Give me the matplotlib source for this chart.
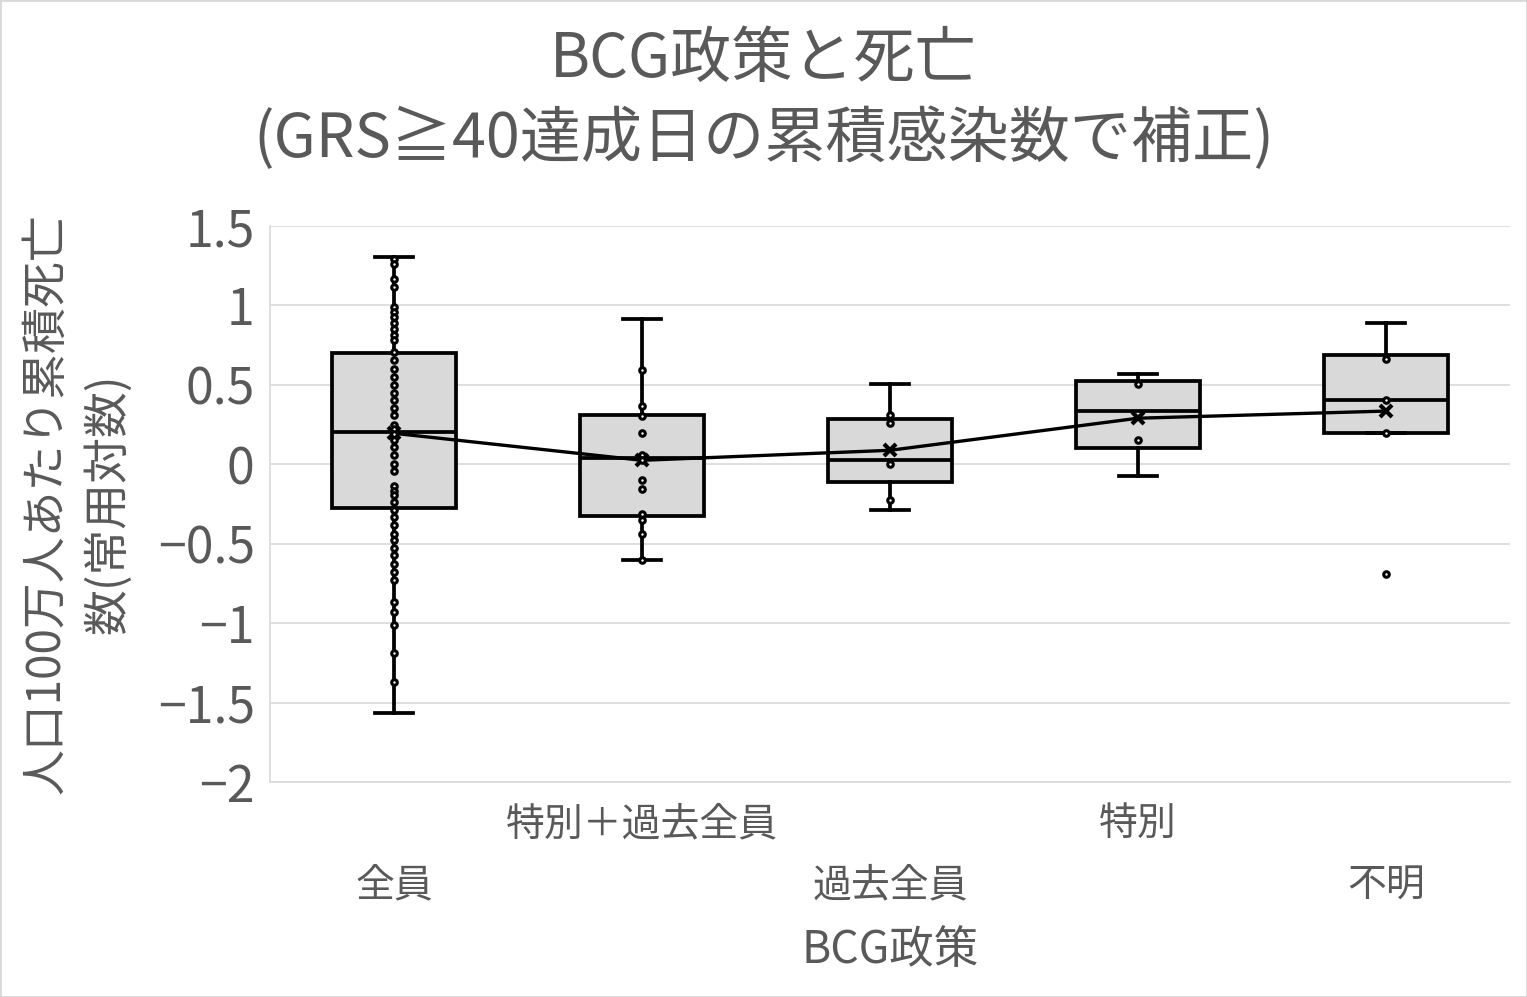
import matplotlib
matplotlib.use("Agg")
import matplotlib.pyplot as plt
from matplotlib.patches import Rectangle

plt.rcParams['font.family'] = ['Noto Sans CJK JP', 'DejaVu Sans']

TXT = "#595959"
GRID = "#d9d9d9"

categories = ["全員", "特別＋過去全員", "過去全員", "特別", "不明"]

# box statistics
q1 = [-0.277, -0.327, -0.111, 0.103, 0.197]
med = [0.205, 0.042, 0.029, 0.333, 0.403]
q3 = [0.699, 0.308, 0.283, 0.522, 0.686]
whislo = [-1.567, -0.604, -0.285, -0.076, 0.197]
whishi = [1.303, 0.917, 0.508, 0.566, 0.889]
means = [0.195, 0.025, 0.088, 0.29, 0.335]

# visible data points of each group
pts_all = [1.295, 1.263, 1.168, 1.116, 0.99, 0.958, 0.927, 0.89, 0.853, 0.816,
           0.78, 0.707, 0.654, 0.60, 0.549, 0.497, 0.451, 0.403, 0.354, 0.308,
           0.245, 0.22, 0.19, 0.151, 0.109, 0.057, 0.004, -0.043, -0.138, -0.168,
           -0.195, -0.237, -0.29, -0.33, -0.38, -0.436, -0.478, -0.527, -0.568,
           -0.625, -0.678, -0.73, -0.867, -0.93, -1.013, -1.187, -1.37]
pts_special_past = [0.596, 0.365, 0.302, 0.197, 0.057, 0.03, -0.10, -0.153,
                    -0.31, -0.35, -0.44, -0.604]
pts_past = [0.308, 0.26, 0.004, -0.227]
pts_special = [0.508, 0.155]
pts_unknown = [0.665, 0.407, 0.197, -0.688]
points = [pts_all, pts_special_past, pts_past, pts_special, pts_unknown]

yticks = [-2, -1.5, -1, -0.5, 0, 0.5, 1, 1.5]
ytick_labels = ["\u22122", "\u22121.5", "\u22121", "\u22120.5", "0", "0.5", "1", "1.5"]

fig = plt.figure(figsize=(15.27, 9.97), dpi=100)
ax = fig.add_axes([270 / 1527, 1 - 782 / 997, 1240 / 1527, 556 / 997])

stats = []
for i in range(len(categories)):
    stats.append({"q1": q1[i], "med": med[i], "q3": q3[i],
                  "whislo": whislo[i], "whishi": whishi[i],
                  "mean": means[i], "label": categories[i]})

ax.bxp(stats, positions=range(len(categories)), widths=0.5, patch_artist=True,
       showmeans=True, showfliers=False,
       boxprops=dict(facecolor="#d9d9d9", edgecolor="black", linewidth=2.7),
       medianprops=dict(color="black", linewidth=2.7),
       whiskerprops=dict(color="black", linewidth=2.7),
       capprops=dict(color="black", linewidth=2.7),
       capwidths=0.15,
       meanprops=dict(marker="x", markeredgecolor="black", markersize=9,
                      markeredgewidth=3),
       zorder=2)

ax.plot(range(len(categories)), means, color="black", linewidth=2.4, zorder=3)

for i, pts in enumerate(points):
    ax.plot([i] * len(pts), pts, "o", markersize=4, markerfacecolor="white",
            markeredgecolor="black", markeredgewidth=2.2, zorder=4)

ax.set_xlim(-0.5, 4.5)
ax.set_ylim(-2, 1.5)
ax.set_yticks(yticks)
ax.set_yticklabels(ytick_labels, fontsize=36, color=TXT)
ax.tick_params(axis="y", length=0, pad=11)
ax.grid(axis="y", color=GRID, linewidth=1.2)
ax.set_axisbelow(True)

# staggered category labels
ax.set_xticks([0, 2, 4])
ax.set_xticklabels([categories[0], categories[2], categories[4]], fontsize=28, color=TXT)
ax.set_xticks([1, 3], minor=True)
ax.set_xticklabels([categories[1], categories[3]], minor=True, fontsize=28, color=TXT)
ax.tick_params(axis="x", which="major", length=0, pad=60)
ax.tick_params(axis="x", which="minor", length=0, pad=16)

for s in ["top", "right"]:
    ax.spines[s].set_visible(False)
for s in ["left", "bottom"]:
    ax.spines[s].set_color(GRID)
    ax.spines[s].set_linewidth(1.2)

ax.set_xlabel("BCG政策", fontsize=32, color=TXT, va="center")
ax.xaxis.set_label_coords(0.5, -(950 - 782) / 556)
ax.set_ylabel("人口100万人あたり累積死亡\n数(常用対数)", fontsize=33, color=TXT,
              va="center", linespacing=1.35)
ax.yaxis.set_label_coords((77 - 270) / 1240, 0.5)

fig.suptitle("BCG政策と死亡\n(GRS≧40達成日の累積感染数で補正)", fontsize=44,
             color=TXT, x=0.5, y=1 - 100 / 997, va="center", linespacing=1.33)

fig.patches.append(Rectangle((0, 0), 1, 1, transform=fig.transFigure, fill=False,
                             edgecolor=GRID, linewidth=2))

fig.savefig("out.png", dpi=100)
